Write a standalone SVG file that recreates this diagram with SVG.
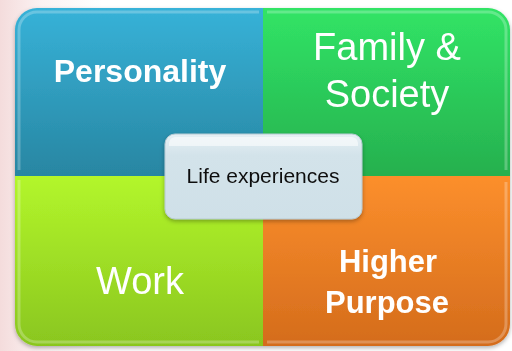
<svg xmlns="http://www.w3.org/2000/svg" width="512" height="351" viewBox="0 0 512 351">
<defs>
<linearGradient id="bg" x1="0" y1="0" x2="1" y2="0">
<stop offset="0" stop-color="#f4dcdc"/><stop offset="0.08" stop-color="#fbf2f2"/><stop offset="0.2" stop-color="#ffffff"/>
</linearGradient>
<linearGradient id="gBlue" x1="0" y1="0" x2="0" y2="1"><stop offset="0" stop-color="#37b2d8"/><stop offset="1" stop-color="#2886a2"/></linearGradient>
<linearGradient id="gGreen" x1="0" y1="0" x2="0" y2="1"><stop offset="0" stop-color="#31e466"/><stop offset="1" stop-color="#26b04e"/></linearGradient>
<linearGradient id="gLime" x1="0" y1="0" x2="0" y2="1"><stop offset="0" stop-color="#b3f62b"/><stop offset="1" stop-color="#8ac61f"/></linearGradient>
<linearGradient id="gOrange" x1="0" y1="0" x2="0" y2="1"><stop offset="0" stop-color="#fc8f2c"/><stop offset="1" stop-color="#d46c1c"/></linearGradient>
<linearGradient id="gBox" x1="0" y1="0" x2="0" y2="1"><stop offset="0" stop-color="#e6f0f4"/><stop offset="0.25" stop-color="#d3e3ea"/><stop offset="1" stop-color="#cfe0e8"/></linearGradient>
<filter id="sh" x="-10%" y="-10%" width="120%" height="130%"><feDropShadow dx="0" dy="2" stdDeviation="2" flood-color="#000" flood-opacity="0.3"/></filter>
</defs>
<style>
.lbl{fill:#ffffff;font-family:"Liberation Sans",Arial,sans-serif;text-anchor:middle}
.b{font-weight:bold}
.hl{fill:none;stroke:#ffffff;stroke-opacity:0.25;stroke-width:3}
</style>
<rect x="0" y="0" width="512" height="351" fill="url(#bg)"/>
<g filter="url(#sh)">
<g id="personality">
<path d="M15,30 A22,22 0 0 1 37,8 H263 V176 H15 Z" fill="url(#gBlue)"/>
<path d="M19,170 V30 A18,18 0 0 1 37,12 H259" class="hl"/>
<text class="lbl b" x="140" y="82" font-size="32">Personality</text>
</g>
<g id="family">
<path d="M263,8 H488 A22,22 0 0 1 510,30 V176 H263 Z" fill="url(#gGreen)"/>
<path d="M267,12 H488 A18,18 0 0 1 506,30 V170" class="hl"/>
<text class="lbl" x="387" y="60" font-size="38">Family &amp;</text>
<text class="lbl" x="387" y="107" font-size="38">Society</text>
</g>
<g id="work">
<path d="M15,176 H263 V346 H37 A22,22 0 0 1 15,324 Z" fill="url(#gLime)"/>
<path d="M19,180 V324 A18,18 0 0 0 37,342 H259" class="hl"/>
<text class="lbl" x="140" y="294" font-size="38">Work</text>
</g>
<g id="purpose">
<path d="M263,176 H510 V324 A22,22 0 0 1 488,346 H263 Z" fill="url(#gOrange)"/>
<path d="M506,182 V324 A18,18 0 0 1 488,342 H267" class="hl"/>
<text class="lbl b" x="388" y="272" font-size="31">Higher</text>
<text class="lbl b" x="387" y="313" font-size="31">Purpose</text>
</g>
</g>
<g id="life" filter="url(#sh)">
<rect x="165" y="134" width="197" height="85" rx="10" fill="url(#gBox)" stroke="#b6cad3" stroke-width="1"/>
<path d="M175,137 H352 A7,7 0 0 1 358,143 V146 H169 V143 A7,7 0 0 1 175,137 Z" fill="#ffffff" fill-opacity="0.55"/>
<text x="263" y="183" font-family="'Liberation Sans',Arial,sans-serif" font-size="21" fill="#111111" text-anchor="middle">Life experiences</text>
</g>
<g id="connectors"/>
</svg>
